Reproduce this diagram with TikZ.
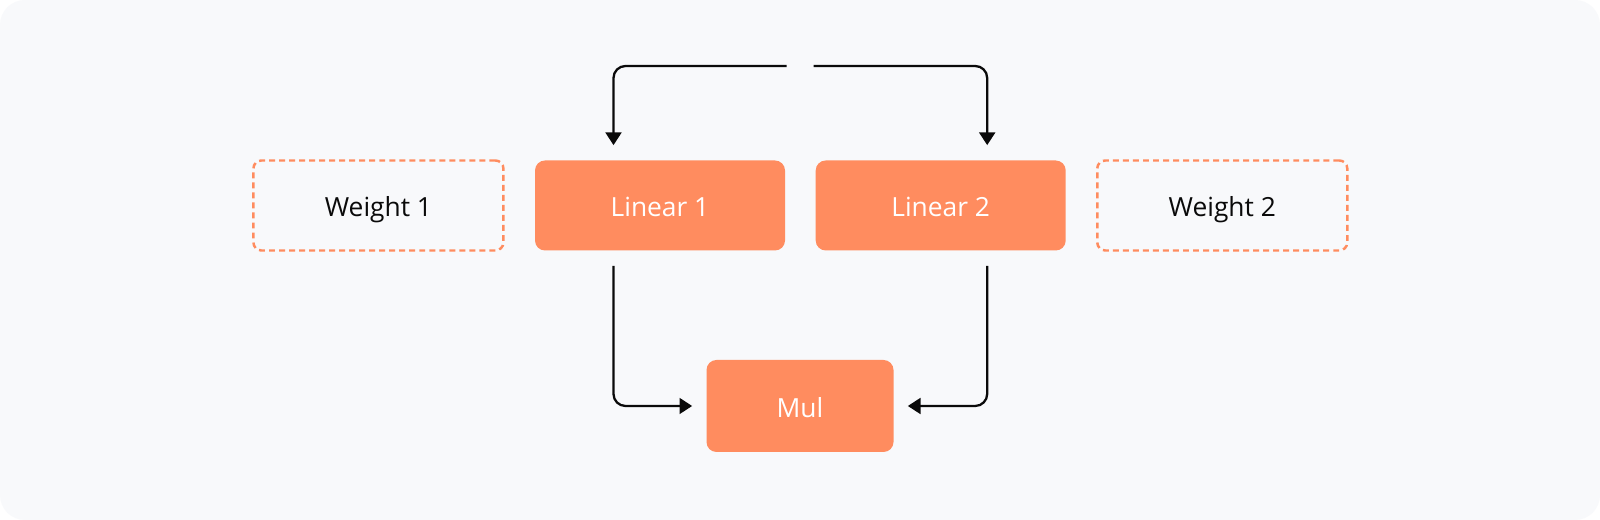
\documentclass[tikz,border=0pt]{standalone}
\usepackage{fontspec}
\setmainfont{Open Sans}
\usetikzlibrary{positioning,arrows.meta}

\definecolor{canvas}{RGB}{248,249,251}
\definecolor{opfill}{RGB}{255,140,95}
\definecolor{ink}{RGB}{10,10,10}

\begin{document}
\begin{tikzpicture}[
op/.style={
  rectangle,
  rounded corners=0.2cm,
  fill=opfill,
  draw=none,
  text=white,
  minimum width=5cm,
  minimum height=1.8cm,
  text height=15pt,
  text depth=2pt,
  font=\fontsize{15}{17}\selectfont
  },
param/.style={
  op,
  fill=none,
  draw=opfill,
  line width=1.4pt,
  dash pattern=on 3.4pt off 2.3pt,
  rounded corners=0.16cm,
  text=ink
  },
flow/.style={
  -{Triangle[length=7.2pt,width=9pt]},
  draw=ink,
  line width=1.3pt,
  rounded corners=0.24cm
  },
node distance=0.6cm
]
\useasboundingbox (0,0) rectangle (32,10.4);
\fill[white] (0,0) rectangle (32,10.4);
\fill[canvas, rounded corners=0.5cm] (0,0) rectangle (32,10.4);

\node[op] (lin1) at (13.2,6.29) {Linear 1};
\node[op, right=of lin1] (lin2) {Linear 2};
\node[param, left=of lin1] (w1) {Weight 1};
\node[param, right=of lin2] (w2) {Weight 2};
\node[op, minimum width=3.74cm, minimum height=1.84cm] (mul) at (16,2.28) {Mul};

% input split
\coordinate (inL) at (15.73,9.08);
\coordinate (inR) at (16.27,9.08);
\draw[flow, shorten >=0.3cm] (inL) -| ([xshift=-0.93cm]lin1.north);
\draw[flow, shorten >=0.3cm] (inR) -| ([xshift=0.93cm]lin2.north);

% into mul
\draw[flow, shorten <=0.3cm, shorten >=0.28cm] ([xshift=-0.93cm]lin1.south) |- (mul.west);
\draw[flow, shorten <=0.3cm, shorten >=0.28cm] ([xshift=0.93cm]lin2.south) |- (mul.east);
\end{tikzpicture}
\end{document}
